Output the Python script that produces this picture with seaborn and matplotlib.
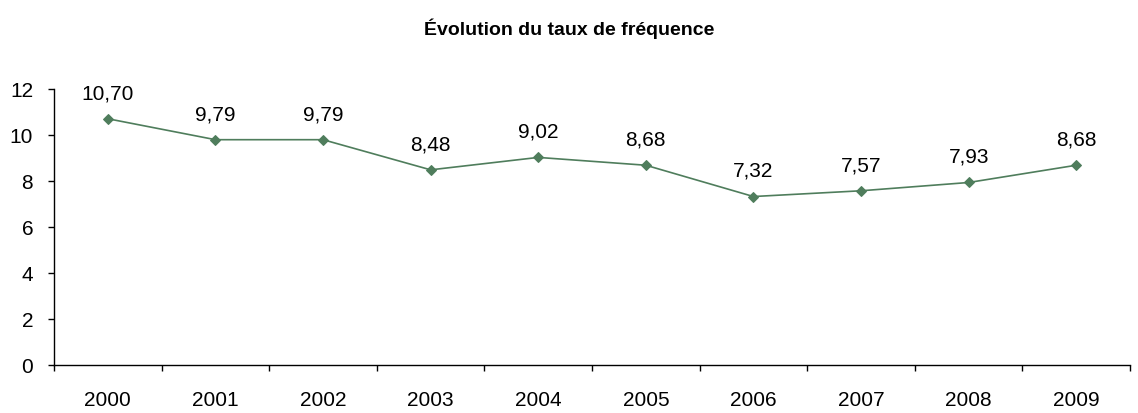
import numpy as np
import pandas as pd
import matplotlib
matplotlib.use("Agg")
import matplotlib.pyplot as plt
import seaborn as sns

years = ["2000", "2001", "2002", "2003", "2004", "2005", "2006", "2007", "2008", "2009"]
taux = [10.70, 9.79, 9.79, 8.48, 9.02, 8.68, 7.32, 7.57, 7.93, 8.68]

df = pd.DataFrame({"pos": np.arange(len(years)), "taux": taux})

sns.set_style("white")
plt.rcParams["font.family"] = ["Liberation Sans", "DejaVu Sans"]
plt.rcParams["text.color"] = "black"
plt.rcParams["xtick.color"] = "black"
plt.rcParams["ytick.color"] = "black"

fig = plt.figure(figsize=(11.38, 4.14), dpi=100)
ax = fig.add_axes([0.0475, 0.116, 0.9455, 0.667])

green = "#4f7d5c"
sns.lineplot(data=df, x="pos", y="taux", color=green, linewidth=1.2,
             marker="D", markersize=5, markeredgecolor=green, ax=ax)

# étiquettes de valeurs au-dessus des points
for p, v in zip(df["pos"], df["taux"]):
    ax.annotate(f"{v:.2f}".replace(".", ","), (p, v), xytext=(0, 12),
                textcoords="offset points", ha="center", va="bottom", fontsize=15)

ax.set_xlim(-0.5, len(years) - 0.5)
ax.set_ylim(0, 12)
ax.set_yticks(range(0, 13, 2))
ax.set_xticks(np.arange(-0.5, len(years)), labels=[])
ax.set_xticks(np.arange(len(years)), labels=years, minor=True)
ax.tick_params(axis="x", which="major", bottom=True, length=4, width=1, direction="out")
ax.tick_params(axis="x", which="minor", bottom=True, length=0, pad=18, labelsize=15)
ax.tick_params(axis="y", left=True, length=4, width=1, direction="out", labelsize=15, pad=11)
ax.set_xlabel("")
ax.set_ylabel("")

for s in ["top", "right"]:
    ax.spines[s].set_visible(False)
for s in ["left", "bottom"]:
    ax.spines[s].set_color("black")
    ax.spines[s].set_linewidth(1)

fig.suptitle("Évolution du taux de fréquence", fontsize=14, fontweight="bold", y=0.955)

fig.savefig("out.png", dpi=100)
